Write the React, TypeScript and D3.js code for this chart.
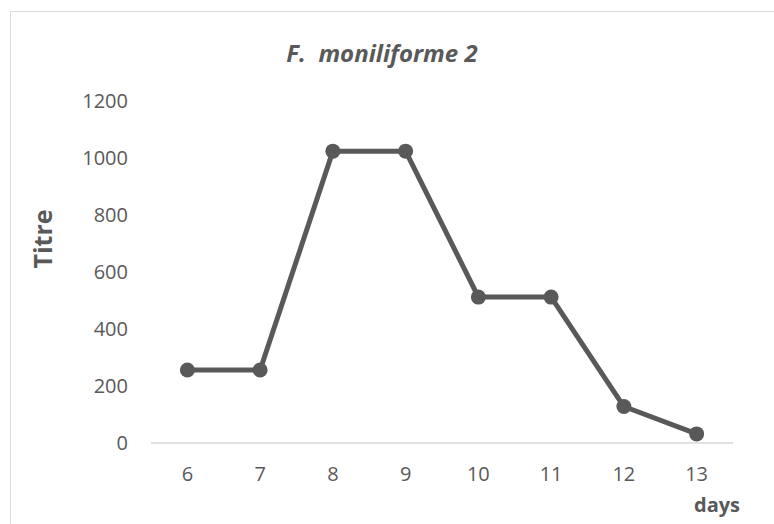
import React from "react";
import * as d3 from "d3";

const days = ["6", "7", "8", "9", "10", "11", "12", "13"];
const titre = [256, 256, 1024, 1024, 512, 512, 128, 32];
const yTicks = [0, 200, 400, 600, 800, 1000, 1200];

const W = 774;
const H = 524;
const FONT = "'Open Sans', 'Noto Sans', sans-serif";

export default function App() {
  const x = d3.scaleBand<string>().domain(days).range([151, 733]);
  const y = d3.scaleLinear().domain([0, 1200]).range([443, 101]);
  const cx = (d: string) => (x(d) as number) + x.bandwidth() / 2;
  const pts = days.map((d, i) => [cx(d), y(titre[i])] as [number, number]);
  const line = d3.line()(pts) as string;

  return (
    <svg width={W} height={H} style={{ position: "absolute", left: 0, top: 0, background: "#fff" }}>
      <rect x={0} y={0} width={W} height={H} fill="#fff" />
      <line x1={10.5} y1={11.5} x2={W} y2={11.5} stroke="#d9d9d9" strokeWidth={1} />
      <line x1={10.5} y1={11.5} x2={10.5} y2={H} stroke="#d9d9d9" strokeWidth={1} />
      <text x={382} y={62} textAnchor="middle" fontFamily={FONT} fontSize={24} fontWeight="bold" fontStyle="italic" fill="#595959" xmlSpace="preserve">
        {"F.  moniliforme 2"}
      </text>
      {yTicks.map((t) => (
        <text key={t} x={128} y={y(t) + 7} textAnchor="end" fontFamily={FONT} fontSize={20} fill="#595959">
          {t}
        </text>
      ))}
      <line x1={151} x2={733} y1={443} y2={443} stroke="#d9d9d9" strokeWidth={1.5} />
      {days.map((d) => (
        <text key={d} x={cx(d)} y={481} textAnchor="middle" fontFamily={FONT} fontSize={20} fill="#595959">
          {d}
        </text>
      ))}
      <text transform="translate(52,239) rotate(-90)" textAnchor="middle" fontFamily={FONT} fontSize={25} fontWeight="bold" fill="#595959">
        Titre
      </text>
      <text x={717} y={512} textAnchor="middle" fontFamily={FONT} fontSize={20} fontWeight="bold" fill="#595959">
        days
      </text>
      <path d={line} fill="none" stroke="#595959" strokeWidth={5} strokeLinejoin="round" />
      {pts.map((p, i) => (
        <circle key={i} cx={p[0]} cy={p[1]} r={7.5} fill="#595959" />
      ))}
    </svg>
  );
}
